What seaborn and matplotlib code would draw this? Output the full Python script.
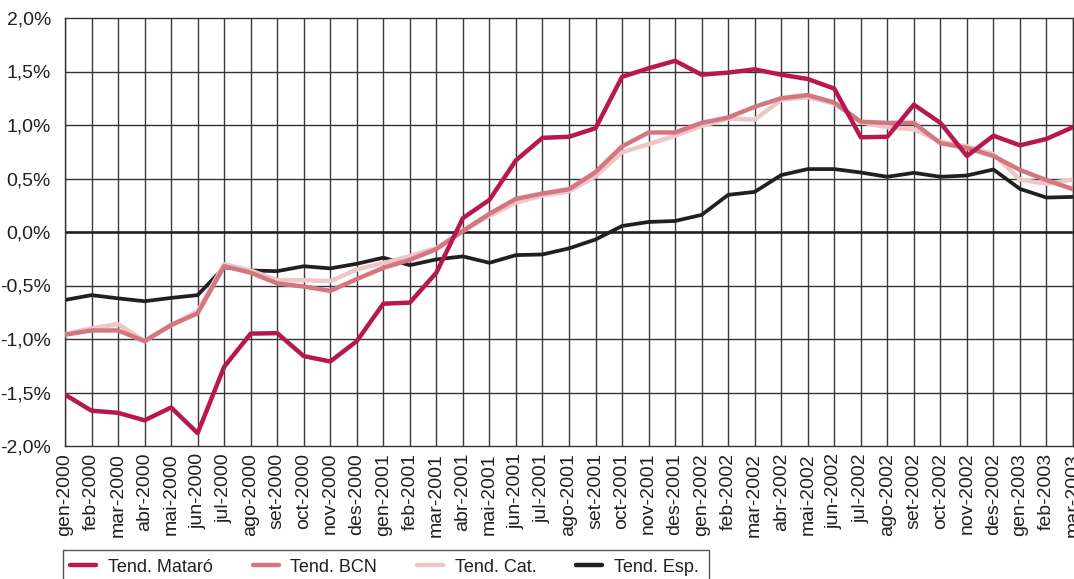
import seaborn as sns
import pandas as pd
import matplotlib.pyplot as plt
from matplotlib.patches import Rectangle
from matplotlib.ticker import FuncFormatter

# --------------------------- data ---------------------------

months = ["gen", "feb", "mar", "abr", "mai", "jun", "jul", "ago", "set", "oct", "nov", "des"]
labels = [f"{m}-{y}" for y in (2000, 2001, 2002) for m in months] + ["gen-2003", "feb-2003", "mar-2003"]

mataro = [-1.52, -1.67, -1.69, -1.76, -1.64, -1.88, -1.26, -0.95, -0.945, -1.16, -1.21, -1.02,
          -0.67, -0.66, -0.38, 0.13, 0.30, 0.67, 0.88, 0.89, 0.97, 1.45, 1.53, 1.60,
          1.47, 1.49, 1.52, 1.47, 1.43, 1.34, 0.885, 0.89, 1.19, 1.02, 0.71, 0.90,
          0.81, 0.87, 0.98]
bcn = [-0.96, -0.92, -0.92, -1.02, -0.87, -0.76, -0.32, -0.38, -0.48, -0.51, -0.55, -0.44,
       -0.335, -0.26, -0.16, 0.01, 0.17, 0.31, 0.36, 0.40, 0.56, 0.80, 0.93, 0.93,
       1.02, 1.07, 1.17, 1.25, 1.28, 1.21, 1.03, 1.02, 1.02, 0.83, 0.785, 0.71,
       0.58, 0.485, 0.40]
cat = [-0.955, -0.90, -0.86, -1.02, -0.87, -0.74, -0.30, -0.36, -0.45, -0.45, -0.46, -0.35,
       -0.29, -0.225, -0.15, 0.01, 0.15, 0.275, 0.34, 0.38, 0.52, 0.745, 0.82, 0.90,
       0.99, 1.06, 1.05, 1.235, 1.26, 1.20, 1.025, 0.98, 0.96, 0.845, 0.80, 0.73,
       0.49, 0.45, 0.49]
esp = [-0.635, -0.59, -0.62, -0.647, -0.616, -0.59, -0.33, -0.36, -0.366, -0.32, -0.34, -0.297,
       -0.24, -0.31, -0.256, -0.228, -0.288, -0.216, -0.21, -0.153, -0.07, 0.056, 0.094, 0.103,
       0.16, 0.347, 0.375, 0.532, 0.588, 0.588, 0.556, 0.516, 0.553, 0.516, 0.528, 0.584,
       0.403, 0.322, 0.328]

series = {"Tend. Mataró": mataro, "Tend. BCN": bcn, "Tend. Cat.": cat, "Tend. Esp.": esp}
colors = {"Tend. Mataró": "#b8174f", "Tend. BCN": "#d4767f",
          "Tend. Cat.": "#efc6c8", "Tend. Esp.": "#231f20"}

df = pd.concat([pd.DataFrame({"idx": range(len(labels)), "val": v, "serie": k})
                for k, v in series.items()], ignore_index=True)

# --------------------------- figure ---------------------------

sns.set_style("white")
plt.rcParams["font.family"] = ["Liberation Sans", "DejaVu Sans"]

fig = plt.figure(figsize=(10.74, 5.79), dpi=100)
ax = fig.add_axes([65 / 1074, 1 - 446 / 579, 1008 / 1074, 428 / 579])

# grid first
for i in range(len(labels)):
    ax.axvline(i, color="#3a3a3a", lw=1.0, zorder=0)
for yv in [-1.5, -1.0, -0.5, 0.5, 1.0, 1.5]:
    ax.axhline(yv, color="#333333", lw=1.0, zorder=0)
ax.axhline(0, color="#231f20", lw=1.9, zorder=1)

zord = {"Tend. Esp.": 2, "Tend. Cat.": 3, "Tend. BCN": 4, "Tend. Mataró": 5}
for name in series:
    sns.lineplot(data=df[df["serie"] == name], x="idx", y="val", color=colors[name],
                 lw=3.2 if name != "Tend. Esp." else 2.7, ax=ax, label=name,
                 zorder=zord[name], legend=False)

ax.set_xlim(0, len(labels) - 1)
ax.set_ylim(-2.0, 2.0)
ax.set_yticks([-2.0, -1.5, -1.0, -0.5, 0.0, 0.5, 1.0, 1.5, 2.0])
ax.yaxis.set_major_formatter(FuncFormatter(lambda v, p: f"{v:.1f}%".replace(".", ",")))
ax.set_xticks(range(len(labels)))
ax.set_xticklabels(labels, rotation=90, va="top", ha="center")
ax.tick_params(axis="both", length=0, labelsize=14, colors="#231f20")
ax.tick_params(axis="x", pad=5)
ax.tick_params(axis="y", pad=10)
ax.set_xlabel("")
ax.set_ylabel("")
for s in ax.spines.values():
    s.set_color("#333333")
    s.set_linewidth(1.0)

# legend (box runs off the bottom edge, as in the original)
handles = [plt.Line2D([], [], color=colors[n], lw=3.2) for n in series]
fig.legend(handles, list(series.keys()), ncol=4, loc="center left",
           bbox_to_anchor=(70 / 1074, 1 - 567 / 579), frameon=False,
           borderpad=0, borderaxespad=0, handlelength=1.45, handletextpad=0.65,
           columnspacing=2.2, fontsize=13, labelcolor="#231f20")
fig.patches.append(Rectangle((63 / 1074, -0.05), 646 / 1074, 1 - 550 / 579 + 0.05,
                             transform=fig.transFigure, fill=False,
                             edgecolor="#555555", lw=1.0))

fig.savefig("out.png", dpi=100)
